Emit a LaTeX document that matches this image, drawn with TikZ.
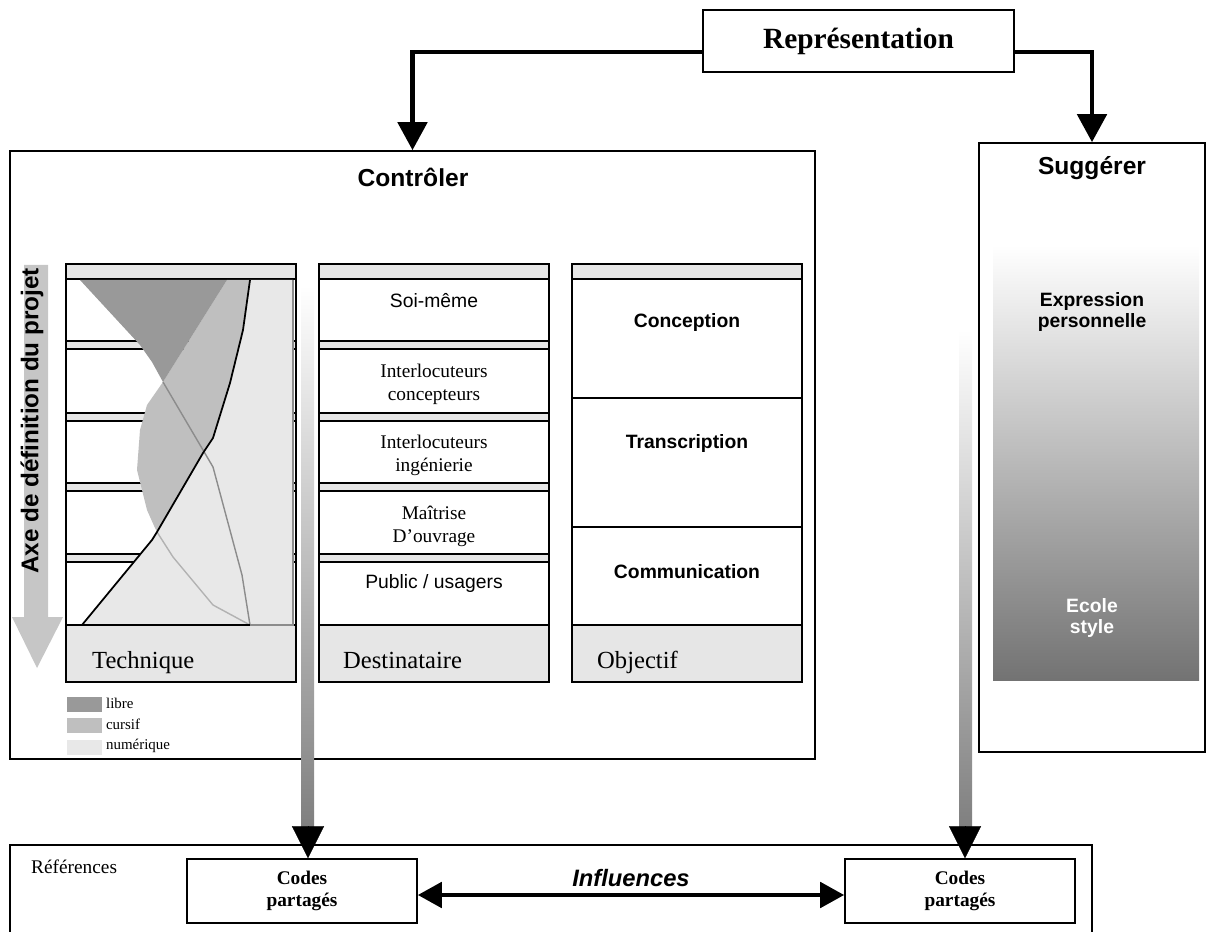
\documentclass[tikz,border=0pt]{standalone}
\usepackage{fontspec}
\setmainfont{Liberation Serif}
\setsansfont{Liberation Sans}
\usepackage{xcolor}
\usetikzlibrary{arrows.meta, fit}

\definecolor{bande}{HTML}{E6E6E6}
\definecolor{libre}{HTML}{999999}
\definecolor{cursif}{HTML}{BFBFBF}
\definecolor{numerique}{HTML}{E8E8E8}
\definecolor{axegris}{HTML}{C6C6C6}

\begin{document}
\begin{tikzpicture}[x=0.02cm, y=-0.02cm, >={Triangle[length=0.56cm, width=0.58cm]},
    cadre/.style={draw, line width=0.9pt, inner sep=0pt},
    rangee/.style={draw, fill=white, line width=0.9pt},
    gros/.style={line width=2.8pt, ->},
    titre/.style={font=\sffamily\bfseries\fontsize{14}{16}\selectfont},
    petit/.style={font=\sffamily\fontsize{11}{13}\selectfont},
    serif/.style={align=center, font=\fontsize{11}{13}\selectfont},
    objet/.style={font=\sffamily\bfseries\fontsize{11}{13}\selectfont},
    pied/.style={anchor=base west, font=\fontsize{14}{16}\selectfont},
    legende/.style={anchor=west, inner sep=1pt, font=\fontsize{8.5}{10}\selectfont},
    code/.style={draw, line width=0.9pt, minimum width=4.6cm, minimum height=1.28cm,
      align=center, font=\bfseries\fontsize{11}{12.5}\selectfont}]
    \useasboundingbox (0,0) rectangle (1210,932);

    % Représentation et les deux cadres
    \node[cadre, minimum width=6.22cm, minimum height=1.24cm,
      font=\bfseries\fontsize{16.7}{20}\selectfont] (rep) at (858.5,41) {Représentation};
    \node[cadre, fit={(10,151) (815,759)}] (ctrl) {};
    \node[titre] (ctrl-t) at (413,177) {Contrôler};
    \node[cadre, fit={(979,143) (1205,752)}] (sugg) {};
    \node[titre] (sugg-t) at (1092,168) {Suggérer};
    \draw[gros] ([yshift=-0.22cm]rep.west) -| (ctrl.north);
    \draw[gros] ([yshift=-0.22cm]rep.east) -| (sugg.north);

    % Axe de définition
    \fill[axegris] (24,265) -- (48,265) -- (48,617) -- (63,617) -- (37,668) -- (12,617)
      -- (24,617) -- cycle;
    \node[rotate=90, font=\sffamily\bfseries\fontsize{13.8}{15}\selectfont] (axe) at (32,421)
      {Axe de définition du projet};

    % Colonne Technique
    \draw[cadre, fill=bande] (66,264) rectangle (296,682);
    \draw[rangee] (66,279) rectangle (296,341);
    \draw[rangee] (66,349) rectangle (296,413);
    \draw[rangee] (66,421) rectangle (296,483);
    \draw[rangee] (66,491) rectangle (296,554);
    \draw[rangee] (66,562) rectangle (296,625);
    \fill[numerique] (82,625) -- (152,540) -- (157,532) -- (203,453) -- (213,438) -- (230,383)
      -- (243,330) -- (250,280) -- (293,280) -- (293,625) -- cycle;
    \fill[cursif] (227,280) -- (250,280) -- (243,330) -- (230,383) -- (213,438) -- (203,453)
      -- (157,532) -- (155,528) -- (147,510) -- (137,470) -- (140,430) -- (147,405)
      -- (163,382) -- cycle;
    \fill[libre] (80,280) -- (227,280) -- (163,382) -- (152,362) -- (140,345) -- cycle;
    \draw[black!45, line width=0.8pt] (163,382) -- (213,467) -- (242,575) -- (250,625);
    \draw[black!30, line width=0.8pt] (157,532) -- (173,557) -- (213,605) -- (250,625);
    \draw[black!45, line width=1pt] (293,280) -- (293,625) -- (250,625);
    \draw[line width=1pt] (250,280) -- (243,330) -- (230,383) -- (213,438) -- (203,453)
      -- (157,532) -- (152,540) -- (82,625);
    \draw[line width=0.9pt] (66,625) -- (250,625);
    \node[pied] (tech) at (86,668) {Technique};

    % Légende
    \fill[libre] (67,697) rectangle (102,712);
    \node[legende] (l-libre) at (104,703) {libre};
    \fill[cursif] (67,718) rectangle (102,733);
    \node[legende] (l-cursif) at (104,724) {cursif};
    \fill[numerique] (67,740) rectangle (102,755);
    \node[legende] (l-num) at (104,746) {numérique};

    % Colonne Destinataire
    \draw[cadre, fill=bande] (319,264) rectangle (549,682);
    \draw[rangee] (319,279) rectangle (549,341);
    \draw[rangee] (319,349) rectangle (549,413);
    \draw[rangee] (319,421) rectangle (549,483);
    \draw[rangee] (319,491) rectangle (549,554);
    \draw[rangee] (319,562) rectangle (549,625);
    \node[petit] (soi) at (434,301) {Soi-même};
    \node[serif] (i-conc) at (434,384) {Interlocuteurs\\concepteurs};
    \node[serif] (i-ing) at (434,455) {Interlocuteurs\\ingénierie};
    \node[serif] (moa) at (434,526) {Maîtrise\\D’ouvrage};
    \node[petit] (public) at (434,584) {Public / usagers};
    \node[pied] (dest) at (337,668) {Destinataire};

    % Colonne Objectif
    \draw[cadre, fill=bande] (572,264) rectangle (802,682);
    \draw[rangee] (572,279) rectangle (802,398);
    \draw[rangee] (572,398) rectangle (802,527);
    \draw[rangee] (572,527) rectangle (802,625);
    \node[objet] (concep) at (687,323) {Conception};
    \node[objet] (transc) at (687,444) {Transcription};
    \node[objet] (commu) at (687,572) {Communication};
    \node[pied] (obj) at (591,668) {Objectif};

    % Suggérer : dégradé
    \shade[top color=white, bottom color=black!55] (993,245) rectangle (1199,680);
    \node[objet, align=center, font=\sffamily\bfseries\fontsize{11}{12.5}\selectfont] (expr)
      at (1092,312) {Expression\\personnelle};
    \node[objet, align=center, text=white, font=\sffamily\bfseries\fontsize{11}{12.5}\selectfont]
      (ecole) at (1092,618) {Ecole\\style};

    % Références
    \draw[line width=0.9pt] (10,940) -- (10,845) -- (1092,845) -- (1092,940);
    \node[anchor=west, font=\fontsize{11}{13}\selectfont] (refs) at (25,867) {Références};
    \node[code] (codeA) at (302,891) {Codes\\partagés};
    \node[code] (codeB) at (960,891) {Codes\\partagés};
    \draw[line width=2.8pt, {Triangle[length=0.48cm, width=0.5cm]}-{Triangle[length=0.48cm, width=0.5cm]}]
      ([yshift=-0.08cm]codeA.east) -- ([yshift=-0.08cm]codeB.west);
    \node[font=\sffamily\bfseries\itshape\fontsize{13.5}{15}\selectfont] (infl) at (631,878) {Influences};

    % Flèches en dégradé
    \shade[top color=white, bottom color=black!50] (301,285) rectangle (314,827);
    \coordinate (fA) at (308,827);
    \draw[line width=0.1pt, -{Triangle[length=0.64cm, width=0.64cm]}] (fA) -- (fA |- codeA.north);
    \shade[top color=white, bottom color=black!50] (959,330) rectangle (972,827);
    \coordinate (fB) at (965,827);
    \draw[line width=0.1pt, -{Triangle[length=0.64cm, width=0.64cm]}] (fB) -- (fB |- codeB.north);
\end{tikzpicture}
\end{document}
